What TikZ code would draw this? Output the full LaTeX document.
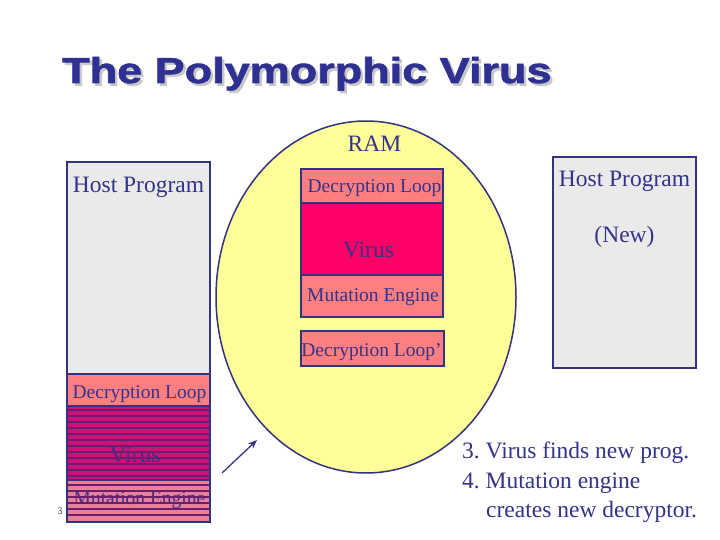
\documentclass[tikz,border=0pt]{standalone}
\usepackage{fontspec}
\setmainfont{Liberation Serif}
\newfontfamily\titlefont{Liberation Sans}[BoldFeatures={FakeBold=1.6}]
\usetikzlibrary{arrows.meta}
\frenchspacing
\definecolor{navy}{HTML}{333380}
\definecolor{txt}{HTML}{33338A}
\definecolor{titleblue}{HTML}{2E3192}
\definecolor{hostgray}{HTML}{EAEAEA}
\definecolor{salmon}{HTML}{FF7F80}
\definecolor{hotpink}{HTML}{FF0066}
\definecolor{magent}{HTML}{CC1177}
\definecolor{stripe}{HTML}{6E1C70}
\definecolor{mutpink}{HTML}{EA8098}
\definecolor{ramyellow}{HTML}{FFFF99}
\tikzset{
  blockbox/.style={draw=navy, line width=1.8pt, anchor=north west, inner sep=0pt, outer sep=0pt},
  bigtxt/.style={text=txt, anchor=base, inner sep=0pt, font=\fontsize{23.5}{28}\selectfont},
  smalltxt/.style={text=txt, anchor=base, inner sep=0pt, font=\fontsize{19.5}{24}\selectfont},
  stripeline/.style={stripe, line width=1.8pt},
}
\newcommand{\titletext}{\scalebox{1.25}[1]{The Polymorphic Virus}}
\begin{document}
\begin{tikzpicture}[x=1pt,y=-1pt]
\useasboundingbox (0,0) rectangle (720,540);
% title with its light shadow
\node[anchor=base west, inner sep=0pt, text=titleblue, font=\titlefont\bfseries\fontsize{36}{40}\selectfont] (title) at (62,83)
  {\makebox[0pt][l]{\hspace{2.5pt}\raisebox{-2.5pt}{\textcolor{black!22}{\titletext}}}\titletext};
% RAM ellipse
\draw[navy, line width=1.5pt, fill=ramyellow] (366,297) ellipse [x radius=150, y radius=176];
\node[bigtxt] (ram) at (374.5,152) {RAM};
% middle stack
\node[blockbox, fill=salmon, minimum width=142pt, minimum height=34pt] (mdec) at (301,169) {};
\node[blockbox, fill=hotpink, minimum width=142pt, minimum height=72pt] (mvir) at (301,203) {};
\node[blockbox, fill=salmon, minimum width=142pt, minimum height=42pt] (mmut) at (301,275) {};
\node[blockbox, fill=salmon, minimum width=143pt, minimum height=35pt] (mdec2) at (301,331) {};
\node[smalltxt] (mdect) at (374.5,193) {Decryption Loop};
\node[bigtxt] (mvirt) at (368.5,258) {Virus};
\node[smalltxt] (mmutt) at (373,301) {Mutation Engine};
\node[smalltxt] (mdec2t) at (371.5,356) {Decryption Loop’};
% left host program
\node[blockbox, fill=hostgray, minimum width=143pt, minimum height=212pt] (lhost) at (67,162) {};
\node[blockbox, fill=salmon, minimum width=143pt, minimum height=32pt] (ldec) at (67,374) {};
\node[blockbox, fill=magent, minimum width=143pt, minimum height=74pt] (lvir) at (67,406) {};
\node[blockbox, fill=mutpink, minimum width=143pt, minimum height=42pt] (lmut) at (67,480) {};
\node[bigtxt] (lhostt) at (138.5,193) {Host Program};
\node[smalltxt] (ldect) at (139.5,398) {Decryption Loop};
\node[bigtxt] (lvirt) at (135,462) {Virus};
\node[smalltxt] (lmutt) at (139.5,504) {Mutation Engine};
\foreach \yy in {410,416,...,476} {\draw[stripeline] (67,\yy) -- (210,\yy);}
\foreach \yy in {485,491,...,518} {\draw[stripeline] (67,\yy) -- (210,\yy);}
\draw[navy, line width=1.8pt] (67,406) rectangle (210,522);
\draw[navy, line width=1.8pt] (67,480) -- (210,480);
% right new host program
\node[blockbox, fill=hostgray, minimum width=143pt, minimum height=211pt] (rhost) at (553,157) {};
\node[bigtxt] (rhostt) at (624.5,187) {Host Program};
\node[bigtxt] (rnew) at (624.5,243) {(New)};
% arrow
\coordinate (arrS) at (222,473);
\coordinate (arrE) at (257,440);
\draw[navy, line width=1.3pt, -{Stealth[length=9pt,width=7pt]}] (arrS) -- (arrE);
% notes
\node[text=txt, anchor=base west, inner sep=0pt, font=\fontsize{23.5}{28}\selectfont] (note1) at (462,458) {3. Virus finds new prog.};
\node[text=txt, anchor=base west, inner sep=0pt, font=\fontsize{23.5}{28}\selectfont] (note2) at (462,488) {4. Mutation engine};
\node[text=txt, anchor=base west, inner sep=0pt, font=\fontsize{23.5}{28}\selectfont] (note3) at (486,517) {creates new decryptor.};
% slide number
\node[text=black!70, anchor=base, inner sep=0pt, font=\sffamily\fontsize{10}{12}\selectfont] (slnum) at (60,514) {3};
\end{tikzpicture}
\end{document}
